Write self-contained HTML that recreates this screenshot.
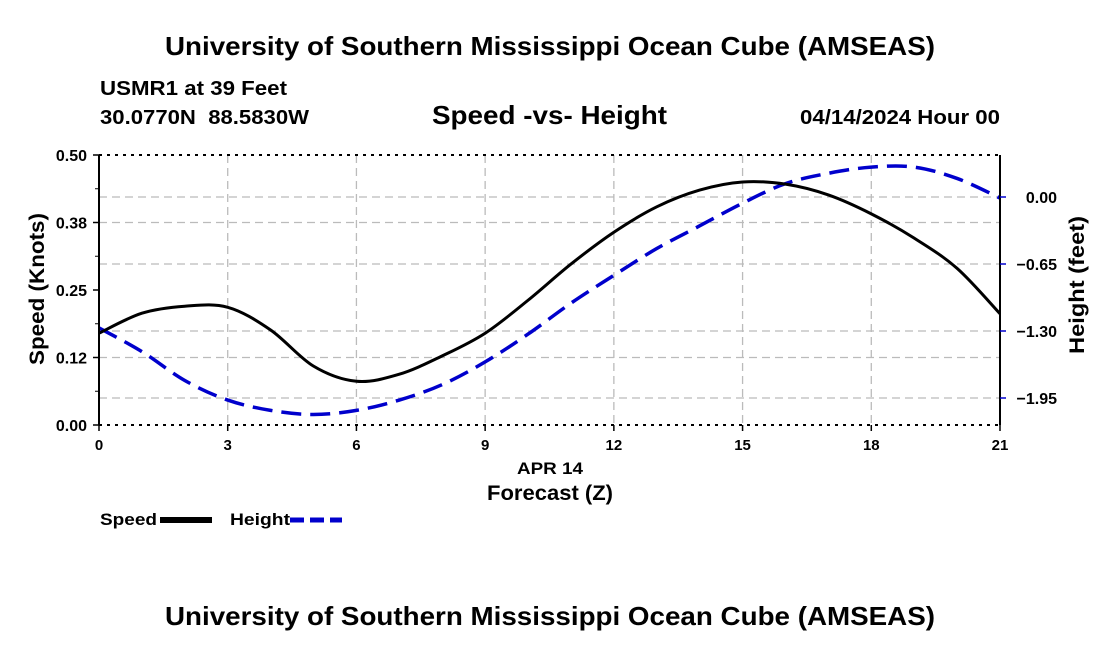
<!DOCTYPE html>
<html><head><meta charset="utf-8"><style>
body{margin:0;background:#fff;}
svg{display:block;font-family:"Liberation Sans",sans-serif;font-weight:bold;}
</style></head><body>
<svg id="chart" width="1100" height="650" viewBox="0 0 1100 650">
<text x="165" y="55" font-size="26" textLength="770" lengthAdjust="spacingAndGlyphs">University of Southern Mississippi Ocean Cube (AMSEAS)</text>
<text x="100" y="95" font-size="20" textLength="187" lengthAdjust="spacingAndGlyphs">USMR1 at 39 Feet</text>
<text x="100" y="124" font-size="20" textLength="209" lengthAdjust="spacingAndGlyphs" xml:space="preserve">30.0770N  88.5830W</text>
<text x="432" y="124" font-size="26" textLength="235" lengthAdjust="spacingAndGlyphs">Speed -vs- Height</text>
<text x="800" y="124" font-size="20" textLength="200" lengthAdjust="spacingAndGlyphs">04/14/2024 Hour 00</text>
<g id="grid"></g>
<g id="series"></g>
<g id="axes"></g>
<text x="517" y="474" font-size="17" textLength="66" lengthAdjust="spacingAndGlyphs">APR 14</text>
<text x="487" y="500" font-size="21" textLength="126" lengthAdjust="spacingAndGlyphs">Forecast (Z)</text>
<text transform="translate(44,365) rotate(-90)" font-size="21" textLength="152" lengthAdjust="spacingAndGlyphs">Speed (Knots)</text>
<text transform="translate(1084,354) rotate(-90)" font-size="21" textLength="138" lengthAdjust="spacingAndGlyphs">Height (feet)</text>
<g><text x="100" y="525" font-size="17" textLength="57" lengthAdjust="spacingAndGlyphs">Speed</text><line x1="160" y1="520" x2="212" y2="520" stroke="#000" stroke-width="6"/></g>
<g><text x="230" y="525" font-size="17" textLength="60" lengthAdjust="spacingAndGlyphs">Height</text><line x1="290" y1="520" x2="342" y2="520" stroke="#00c" stroke-width="5" stroke-dasharray="14,6"/></g>
<text x="165" y="625" font-size="26" textLength="770" lengthAdjust="spacingAndGlyphs">University of Southern Mississippi Ocean Cube (AMSEAS)</text>
</svg>
<script>
const hours=[0,1,2,3,4,5,6,7,8,9,10,11,12,13,14,15,16,17,18,19,20,21];
const speedVals=[0.170,0.207,0.220,0.218,0.176,0.109,0.081,0.094,0.128,0.170,0.231,0.298,0.357,0.404,0.435,0.450,0.446,0.426,0.391,0.346,0.290,0.206];
const heightVals=[-1.27,-1.50,-1.78,-1.97,-2.07,-2.11,-2.07,-1.97,-1.82,-1.60,-1.33,-1.03,-0.76,-0.50,-0.28,-0.06,0.13,0.23,0.29,0.29,0.18,-0.01];
const xTicks=[0,3,6,9,12,15,18,21];
const speedTicks=[0,0.125,0.25,0.375,0.5];
const speedTickLabels=["0.00","0.12","0.25","0.38","0.50"];
const heightTicks=[0,-0.65,-1.3,-1.95];
const heightTickLabels=["0.00","\u22120.65","\u22121.30","\u22121.95"];
const L=99,R=1000,T=155,B=425;
const xs=h=>L+(R-L)*h/21;
const ys=v=>B-(B-T)*v/0.5;
const yh=v=>197-v*67/0.65;
const NS="http://www.w3.org/2000/svg";
function mk(p,t,a){const e=document.createElementNS(NS,t);for(const k in a)e.setAttribute(k,a[k]);p.appendChild(e);return e;}
const grid=document.getElementById('grid'),axes=document.getElementById('axes'),series=document.getElementById('series');
xTicks.forEach(h=>{if(h>0&&h<21){const g=mk(grid,'line',{x1:xs(h),x2:xs(h),y1:T,y2:B,stroke:'#bbb','stroke-width':1.3,'stroke-dasharray':'8,5'});

}});
[speedTicks[1],speedTicks[3]].forEach(v=>{const g=mk(grid,'line',{x1:L,x2:R,y1:ys(v),y2:ys(v),stroke:'#bbb','stroke-width':1.3,'stroke-dasharray':'8,5'});

});
heightTicks.forEach(v=>{const g=mk(grid,'line',{x1:L,x2:R,y1:yh(v),y2:yh(v),stroke:'#bbb','stroke-width':1.3,'stroke-dasharray':'8,5'});

});
mk(axes,'line',{x1:L,x2:L,y1:T,y2:B,stroke:'#000','stroke-width':2});
mk(axes,'line',{x1:R,x2:R,y1:T,y2:B,stroke:'#000','stroke-width':2});
mk(axes,'line',{x1:L,x2:R,y1:T,y2:T,stroke:'#000','stroke-width':2,'stroke-dasharray':'3,5'});
mk(axes,'line',{x1:L,x2:R,y1:B,y2:B,stroke:'#000','stroke-width':2,'stroke-dasharray':'3,5'});
xTicks.forEach(h=>{mk(axes,'line',{x1:xs(h),x2:xs(h),y1:B,y2:B+6,stroke:'#000','stroke-width':1.5});
const t=mk(axes,'text',{x:xs(h),y:B+25,'font-size':15,'text-anchor':'middle'});t.textContent=h;

});
speedTicks.forEach((v,i)=>{mk(axes,'line',{x1:L-6,x2:L,y1:ys(v),y2:ys(v),stroke:'#000','stroke-width':1.5});
const t=mk(axes,'text',{x:L-12,y:ys(v)+6,'font-size':16,'text-anchor':'end'});t.textContent=speedTickLabels[i];

});
for(let i=1;i<8;i+=2){const v=i*0.0625;mk(axes,'line',{x1:L-4,x2:L,y1:ys(v),y2:ys(v),stroke:'#000','stroke-width':1});}
heightTicks.forEach((v,i)=>{mk(axes,'line',{x1:R,x2:R+6,y1:yh(v),y2:yh(v),stroke:'#00c','stroke-width':1.5});
const t=mk(axes,'text',{x:R+57,y:yh(v)+6,'font-size':16,'text-anchor':'end'});t.textContent=heightTickLabels[i];

});
function smooth(pts){let d=`M${pts[0][0]},${pts[0][1]}`;for(let i=0;i<pts.length-1;i++){const p0=pts[i-1]||pts[i],p1=pts[i],p2=pts[i+1],p3=pts[i+2]||p2;
d+=` C${p1[0]+(p2[0]-p0[0])/6},${p1[1]+(p2[1]-p0[1])/6} ${p2[0]-(p3[0]-p1[0])/6},${p2[1]-(p3[1]-p1[1])/6} ${p2[0]},${p2[1]}`;}return d;}
const hp=mk(series,'path',{d:smooth(hours.map((h,i)=>[xs(h),yh(heightVals[i])])),fill:'none',stroke:'#00c','stroke-width':3.5,'stroke-dasharray':'20,9'});


const sp=mk(series,'path',{d:smooth(hours.map((h,i)=>[xs(h),ys(speedVals[i])])),fill:'none',stroke:'#000','stroke-width':3});


</script>
</body></html>
